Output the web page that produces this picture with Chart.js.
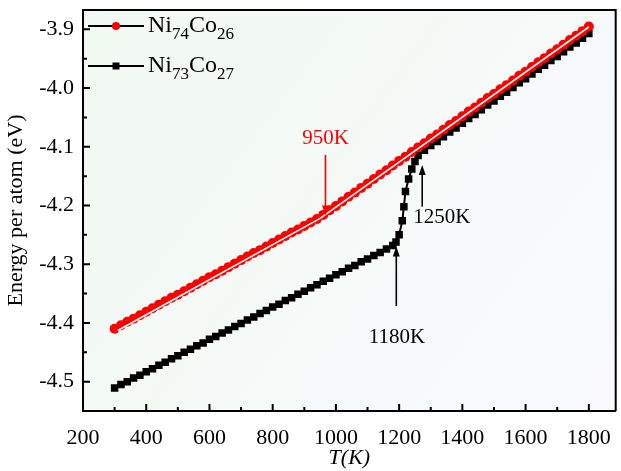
<!DOCTYPE html>
<html>
<head>
<meta charset="utf-8">
<script src="https://cdn.jsdelivr.net/npm/chart.js@4.4.0/dist/chart.umd.min.js"></script>
<style>
  html, body { margin: 0; padding: 0; background: #fff; }
  #wrap { width: 621px; height: 471px; }
</style>
</head>
<body>
<div id="wrap"><canvas id="energyChart" width="621" height="471"></canvas></div>
<script>
// --- data ---
const temps = [300, 320, 340, 360, 380, 400, 420, 440, 460, 480, 500, 520, 540, 560, 580, 600, 620, 640, 660, 680,
  700, 720, 740, 760, 780, 800, 820, 840, 860, 880, 900, 920, 940, 960, 980, 1000, 1020, 1040, 1060, 1080,
  1100, 1120, 1140, 1160, 1180, 1200, 1220, 1240, 1260, 1280, 1300, 1320, 1340, 1360, 1380, 1400, 1420, 1440, 1460, 1480,
  1500, 1520, 1540, 1560, 1580, 1600, 1620, 1640, 1660, 1680, 1700, 1720, 1740, 1760, 1780, 1800];

// Ni74Co26 (red circles)
const energyNi74 = [-4.410, -4.404, -4.398, -4.393, -4.387, -4.381, -4.375, -4.369, -4.363, -4.357,
  -4.352, -4.346, -4.340, -4.334, -4.328, -4.322, -4.317, -4.311, -4.305, -4.299,
  -4.293, -4.287, -4.281, -4.276, -4.270, -4.264, -4.258, -4.252, -4.246, -4.241,
  -4.235, -4.229, -4.223, -4.216, -4.208, -4.201, -4.193, -4.185, -4.178, -4.170,
  -4.163, -4.155, -4.147, -4.140, -4.132, -4.124, -4.117, -4.109, -4.101, -4.094,
  -4.086, -4.079, -4.071, -4.063, -4.056, -4.048, -4.040, -4.033, -4.025, -4.017,
  -4.010, -4.002, -3.995, -3.987, -3.979, -3.972, -3.964, -3.956, -3.949, -3.941,
  -3.934, -3.926, -3.918, -3.911, -3.903, -3.895];

// Ni73Co27 (black squares), extra samples through the jump
const tempsNi73 = [300, 320, 340, 360, 380, 400, 420, 440, 460, 480, 500, 520, 540, 560, 580, 600, 620, 640, 660, 680,
  700, 720, 740, 760, 780, 800, 820, 840, 860, 880, 900, 920, 940, 960, 980, 1000, 1020, 1040, 1060, 1080,
  1100, 1120, 1140, 1160, 1180, 1190, 1200, 1210, 1215, 1220, 1230, 1240, 1250, 1260,
  1280, 1300, 1320, 1340, 1360, 1380, 1400, 1420, 1440, 1460, 1480, 1500, 1520, 1540, 1560, 1580,
  1600, 1620, 1640, 1660, 1680, 1700, 1720, 1740, 1760, 1780, 1800];
const energyNi73 = [-4.511, -4.505, -4.500, -4.494, -4.489, -4.483, -4.478, -4.472, -4.467, -4.461,
  -4.456, -4.450, -4.445, -4.439, -4.434, -4.428, -4.423, -4.417, -4.412, -4.406,
  -4.401, -4.395, -4.390, -4.384, -4.379, -4.373, -4.368, -4.362, -4.357, -4.351,
  -4.346, -4.340, -4.335, -4.329, -4.324, -4.318, -4.313, -4.307, -4.302, -4.296,
  -4.291, -4.285, -4.280, -4.274, -4.268, -4.262, -4.250, -4.226, -4.202, -4.176,
  -4.155, -4.138, -4.125, -4.115,
  -4.106, -4.098, -4.091, -4.083, -4.075, -4.068, -4.060, -4.052, -4.045, -4.037,
  -4.029, -4.022, -4.014, -4.007, -3.999, -3.991, -3.984, -3.976, -3.968, -3.961,
  -3.953, -3.946, -3.938, -3.930, -3.923, -3.915, -3.907];

// white guide line running inside the red band
const fitTemps = [310, 950, 1800];
const fitNi74 = [-4.413, -4.222, -3.896];

const xMajor = [200, 400, 600, 800, 1000, 1200, 1400, 1600, 1800];
const xMinor = [300, 500, 700, 900, 1100, 1300, 1500, 1700];
const yMajor = [-4.5, -4.4, -4.3, -4.2, -4.1, -4.0, -3.9];
const yMinor = [-4.45, -4.35, -4.25, -4.15, -4.05, -3.95];

// transition markers
const marks = [
  { text: '950K',  color: '#ff0000', x: 967,  tx: 967,  ty: -4.085, tail: -4.114, tip: -4.217 },
  { text: '1180K', color: '#000000', x: 1191, tx: 1193, ty: -4.424, tail: -4.371, tip: -4.270 },
  { text: '1250K', color: '#000000', x: 1273, tx: 1335, ty: -4.221, tail: -4.202, tip: -4.131 }
];

const legendItems = [
  { parts: ['Ni', '74', 'Co', '26'], color: '#ff0000', marker: 'circle' },
  { parts: ['Ni', '73', 'Co', '27'], color: '#000000', marker: 'rect' }
];

const FONT = "'Liberation Serif', 'Times New Roman', serif";

function toXY(xs, ys) {
  return xs.map((x, i) => ({ x: x, y: ys[i] }));
}

// --- drawing helpers ---
function drawArrow(ctx, x, yTail, yTip, color) {
  ctx.save();
  ctx.strokeStyle = color;
  ctx.fillStyle = color;
  ctx.lineWidth = 1.6;
  const dir = yTip > yTail ? 1 : -1;
  ctx.beginPath();
  ctx.moveTo(x, yTail);
  ctx.lineTo(x, yTip - dir * 8);
  ctx.stroke();
  ctx.beginPath();
  ctx.moveTo(x, yTip);
  ctx.lineTo(x - 3.5, yTip - dir * 10);
  ctx.lineTo(x + 3.5, yTip - dir * 10);
  ctx.closePath();
  ctx.fill();
  ctx.restore();
}

function drawLegend(ctx, area) {
  legendItems.forEach((item, i) => {
    const y = area.top + 16 + i * 40;
    const x0 = area.left + 5;
    ctx.save();
    ctx.strokeStyle = '#000';
    ctx.lineWidth = 2;
    ctx.beginPath();
    ctx.moveTo(x0, y);
    ctx.lineTo(x0 + 56, y);
    ctx.stroke();
    ctx.fillStyle = item.color;
    if (item.marker === 'circle') {
      ctx.beginPath();
      ctx.arc(x0 + 28, y, 4, 0, Math.PI * 2);
      ctx.fill();
    } else {
      ctx.fillRect(x0 + 24.5, y - 3.5, 7, 7);
    }
    ctx.fillStyle = '#000';
    ctx.textBaseline = 'middle';
    let tx = x0 + 60;
    item.parts.forEach((part, k) => {
      const sub = k % 2 === 1;
      ctx.font = (sub ? '17px ' : '24px ') + FONT;
      ctx.fillText(part, tx, sub ? y + 9 : y);
      tx += ctx.measureText(part).width;
    });
    ctx.restore();
  });
}

function drawFrameAndTicks(chart) {
  const { ctx, chartArea: a, scales } = chart;
  const xs = scales.x, ys = scales.y;
  ctx.save();
  ctx.strokeStyle = '#000000';
  ctx.lineWidth = 2;
  ctx.beginPath();
  ctx.moveTo(a.left, a.top);
  ctx.lineTo(a.right, a.top);
  ctx.lineTo(a.right, a.bottom);
  ctx.stroke();
  ctx.beginPath();
  xMajor.forEach(v => { const p = xs.getPixelForValue(v); ctx.moveTo(p, a.bottom); ctx.lineTo(p, a.bottom - 7); });
  xMinor.forEach(v => { const p = xs.getPixelForValue(v); ctx.moveTo(p, a.bottom); ctx.lineTo(p, a.bottom - 4); });
  yMajor.forEach(v => { const p = ys.getPixelForValue(v); ctx.moveTo(a.left, p); ctx.lineTo(a.left + 7, p); });
  yMinor.forEach(v => { const p = ys.getPixelForValue(v); ctx.moveTo(a.left, p); ctx.lineTo(a.left + 4, p); });
  ctx.stroke();
  ctx.restore();
}

const decorPlugin = {
  id: 'decor',
  beforeDraw(chart) {
    const { ctx, chartArea: a } = chart;
    const g = ctx.createLinearGradient(a.left, a.top, a.right, a.bottom);
    g.addColorStop(0, '#f1faf1');
    g.addColorStop(1, '#f9f9fe');
    ctx.save();
    ctx.fillStyle = g;
    ctx.fillRect(a.left, a.top, a.right - a.left, a.bottom - a.top);
    ctx.restore();
  },
  afterDatasetsDraw(chart) {
    drawFrameAndTicks(chart);
  },
  afterDraw(chart) {
    const { ctx, chartArea: a, scales } = chart;
    const xs = scales.x, ys = scales.y;
    marks.forEach(m => {
      const px = xs.getPixelForValue(m.x);
      drawArrow(ctx, px, ys.getPixelForValue(m.tail), ys.getPixelForValue(m.tip), m.color);
      ctx.save();
      ctx.fillStyle = m.color;
      ctx.font = '21px ' + FONT;
      ctx.textAlign = 'center';
      ctx.textBaseline = 'middle';
      ctx.fillText(m.text, xs.getPixelForValue(m.tx), ys.getPixelForValue(m.ty));
      ctx.restore();
    });
    drawLegend(ctx, a);
  }
};

function noPadding(scale) {
  scale.paddingTop = 0;
  scale.paddingBottom = 0;
  scale.paddingLeft = 0;
  scale.paddingRight = 0;
}

// --- chart ---
const chartCanvas = document.getElementById('energyChart');
new Chart(chartCanvas.getContext('2d'), {
  type: 'scatter',
  data: {
    datasets: [
      {
        label: 'fit',
        data: toXY(fitTemps, fitNi74),
        showLine: true,
        borderColor: '#ffffff',
        borderWidth: 1.6,
        pointRadius: 0,
        order: 0
      },
      {
        label: 'Ni74Co26',
        data: toXY(temps, energyNi74),
        showLine: true,
        borderColor: '#ff0000',
        borderWidth: 2,
        backgroundColor: '#ff0000',
        pointBackgroundColor: '#ff0000',
        pointBorderWidth: 0,
        pointRadius: 5,
        pointStyle: 'circle',
        order: 1
      },
      {
        label: 'Ni73Co27',
        data: toXY(tempsNi73, energyNi73),
        showLine: true,
        borderColor: '#000000',
        borderWidth: 2,
        backgroundColor: '#000000',
        pointBackgroundColor: '#000000',
        pointBorderWidth: 0,
        pointRadius: 5.3,
        pointStyle: 'rect',
        order: 2
      }
    ]
  },
  options: {
    responsive: false,
    animation: false,
    devicePixelRatio: 1,
    layout: { padding: { top: 10, right: 4, left: 0, bottom: 0 } },
    plugins: {
      legend: { display: false },
      tooltip: { enabled: false }
    },
    scales: {
      x: {
        type: 'linear',
        min: 200,
        max: 1885,
        afterBuildTicks: scale => { scale.ticks = xMajor.map(v => ({ value: v })); },
        afterFit: scale => { scale.height = 60; noPadding(scale); },
        grid: { display: false, drawTicks: false },
        border: { display: true, color: '#000', width: 2 },
        ticks: { color: '#000', font: { family: FONT, size: 22 }, padding: 14, maxRotation: 0, callback: v => String(v) },
        title: { display: true, text: 'T(K)', color: '#000', font: { family: FONT, size: 22, style: 'italic' }, padding: { top: 0, bottom: 0 } }
      },
      y: {
        type: 'linear',
        min: -4.55,
        max: -3.867,
        afterBuildTicks: scale => { scale.ticks = yMajor.map(v => ({ value: v })); },
        afterFit: scale => { scale.width = 83; noPadding(scale); },
        grid: { display: false, drawTicks: false },
        border: { display: true, color: '#000', width: 2 },
        ticks: { color: '#000', font: { family: FONT, size: 22 }, padding: 9, callback: v => v.toFixed(1) },
        title: { display: true, text: 'Energy per atom (eV)', color: '#000', font: { family: FONT, size: 22 }, padding: { top: 3, bottom: 0 } }
      }
    }
  },
  plugins: [decorPlugin]
});
</script>
</body>
</html>
